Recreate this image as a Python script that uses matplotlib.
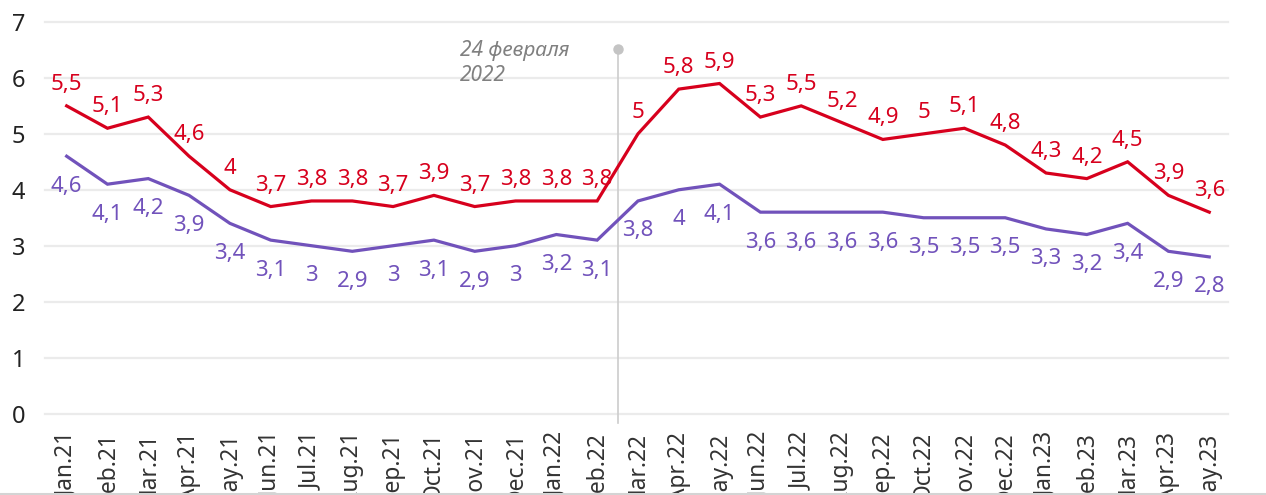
import numpy as np
import matplotlib.pyplot as plt
from matplotlib.lines import Line2D

# monthly series
months = ['Jan.21', 'Feb.21', 'Mar.21', 'Apr.21', 'May.21', 'Jun.21', 'Jul.21',
          'Aug.21', 'Sep.21', 'Oct.21', 'Nov.21', 'Dec.21', 'Jan.22', 'Feb.22',
          'Mar.22', 'Apr.22', 'May.22', 'Jun.22', 'Jul.22', 'Aug.22', 'Sep.22',
          'Oct.22', 'Nov.22', 'Dec.22', 'Jan.23', 'Feb.23', 'Mar.23', 'Apr.23',
          'May.23']
red_vals = [5.5, 5.1, 5.3, 4.6, 4, 3.7, 3.8, 3.8, 3.7, 3.9, 3.7, 3.8, 3.8, 3.8,
            5, 5.8, 5.9, 5.3, 5.5, 5.2, 4.9, 5, 5.1, 4.8, 4.3, 4.2, 4.5, 3.9, 3.6]
purple_vals = [4.6, 4.1, 4.2, 3.9, 3.4, 3.1, 3, 2.9, 3, 3.1, 2.9, 3, 3.2, 3.1,
               3.8, 4, 4.1, 3.6, 3.6, 3.6, 3.6, 3.5, 3.5, 3.5, 3.3, 3.2, 3.4, 2.9, 2.8]
y_ticks = [0, 1, 2, 3, 4, 5, 6, 7]
event_pos = 13.5  # between Feb.22 and Mar.22
event_text = '24 февраля\n2022'

RED = '#d7001d'
PURPLE = '#7152bb'

plt.rcParams['font.family'] = ['Noto Sans', 'DejaVu Sans']

fig = plt.figure(figsize=(12.66, 4.95), dpi=100)
ax = fig.add_axes([0.0355, 0.1646, 0.9345, 0.791])

x = np.arange(len(months))
ax.plot(x, red_vals, color=RED, lw=2.3, solid_joinstyle='miter', zorder=3)
ax.plot(x, purple_vals, color=PURPLE, lw=2.3, solid_joinstyle='miter', zorder=3)

def fmt(v):
    return f'{v:g}'.replace('.', ',')

#labels: red above, purple below
for i, v in enumerate(red_vals):
    ax.annotate(fmt(v), (i, v), xytext=(0, 11.5), textcoords='offset points',
                ha='center', va='baseline', color=RED, fontsize=16)
for i, v in enumerate(purple_vals):
    ax.annotate(fmt(v), (i, v), xytext=(0, -25.5), textcoords='offset points',
                ha='center', va='baseline', color=PURPLE, fontsize=16)

# event marker
ax.plot([event_pos, event_pos], [-0.17, 6.51], color='#cccccc', lw=1.2,
        clip_on=False, zorder=2)
ax.plot([event_pos], [6.51], 'o', color='#c4c4c4', ms=6.5, clip_on=False, zorder=2)
ax.text(9.64, 6.67, event_text, ha='left', va='top', fontsize=15,
        style='italic', color='#808080', linespacing=1.22)

ax.set_xlim(-0.532, 28.46)
ax.set_ylim(0, 7)
ax.set_yticks(y_ticks)
ax.set_xticks(x)
ax.set_xticklabels(months, rotation=90, ha='center', va='top')
ax.tick_params(axis='y', length=0, pad=14, labelsize=17, labelcolor='#222222')
ax.tick_params(axis='x', length=0, pad=13, labelsize=16.4, labelcolor='#333333')

ax.grid(axis='y', color='#ebebeb', lw=1.6)
ax.grid(axis='x', visible=False)
for gl in ax.get_ygridlines():
    gl.set_clip_on(False)
ax.set_axisbelow(True)
for s in ax.spines.values():
    s.set_visible(False)

fig.add_artist(Line2D([0, 1], [0.003, 0.003], color='#d4d4d4', lw=1.5))

fig.savefig('out.png', dpi=100)
